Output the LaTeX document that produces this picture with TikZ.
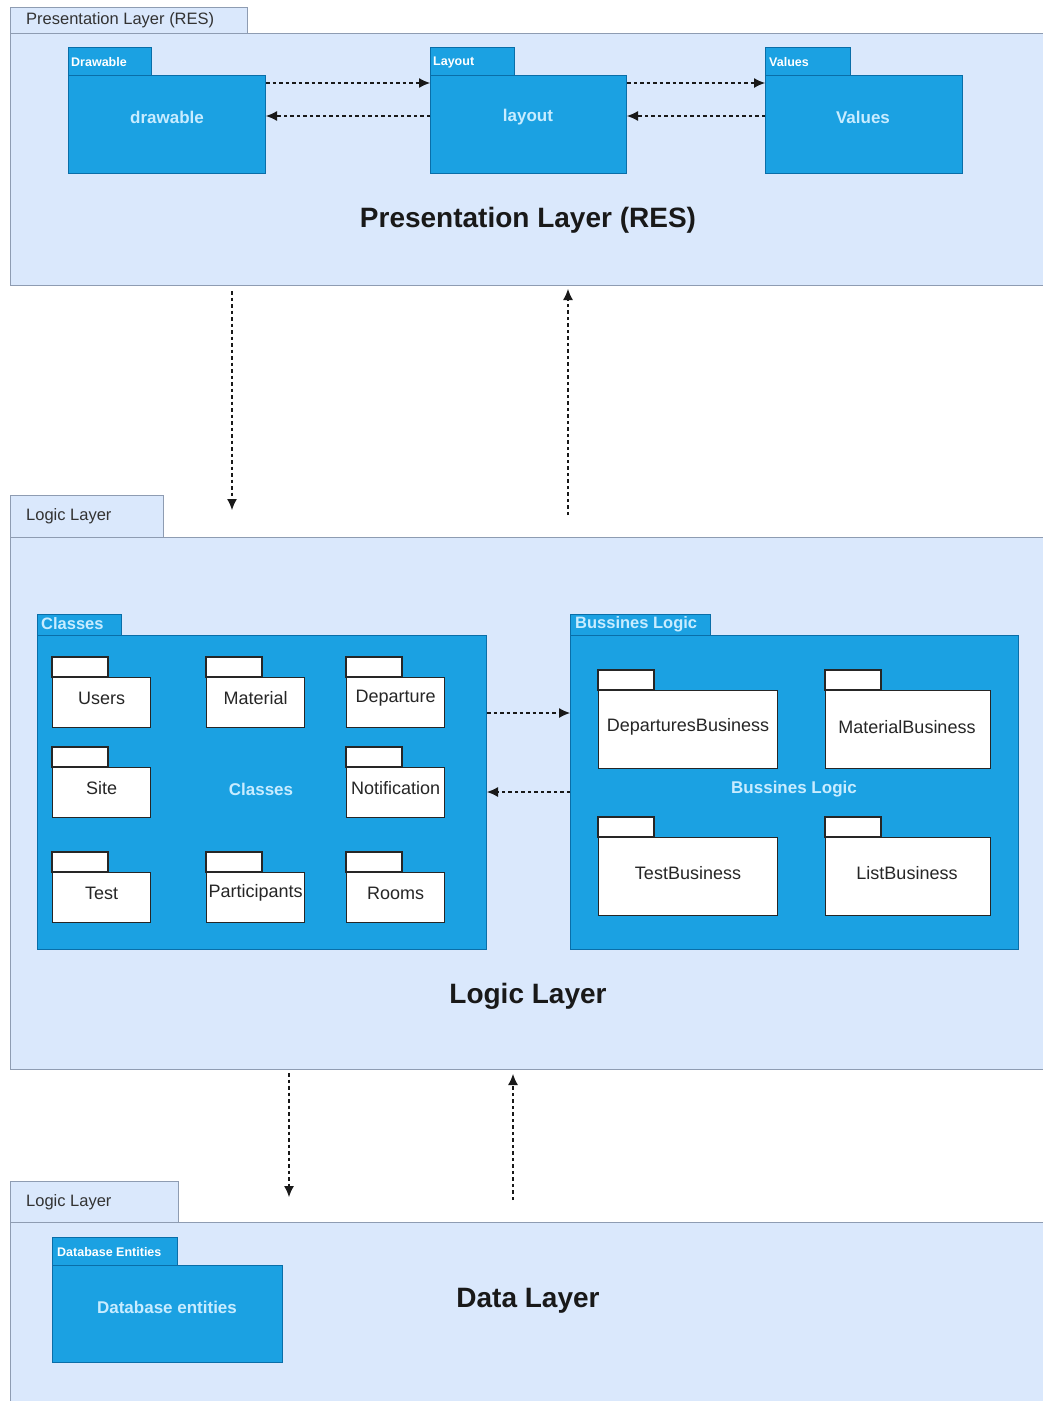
\documentclass[tikz,border=0pt]{standalone}
\usepackage{fontspec}
\setmainfont{Liberation Sans}
\usetikzlibrary{arrows.meta,calc}

\definecolor{layerfill}{HTML}{DAE8FC}
\definecolor{layerline}{HTML}{8E9CB2}
\definecolor{pkgfill}{HTML}{1BA1E2}
\definecolor{pkgline}{HTML}{0A6EA8}
\definecolor{pkgtext}{HTML}{C8ECFF}

\tikzset{
  layerbox/.style={fill=layerfill, draw=layerline, line width=1pt, inner sep=0pt, anchor=north west},
  layertab/.style={fill=layerfill, draw=layerline, line width=1pt},
  layertablabel/.style={anchor=west, font=\fontsize{16.5}{18}\selectfont, text=black!80, inner sep=0pt},
  layertitle/.style={font=\fontsize{28}{32}\selectfont\bfseries, text=black!90},
  pkgbox/.style={fill=pkgfill, draw=pkgline, line width=1pt, inner sep=0pt, anchor=north west},
  pkgtab/.style={fill=pkgfill, draw=pkgline, line width=1pt},
  pkgtablabel/.style={anchor=west, font=\bfseries\fontsize{12.5}{14}\selectfont, text=white, inner sep=0pt},
  pkgtablabelbig/.style={anchor=west, font=\bfseries\fontsize{16.5}{18}\selectfont, text=pkgtext, inner sep=0pt},
  pkglabel/.style={font=\bfseries\fontsize{17}{19}\selectfont, text=pkgtext},
  subbox/.style={fill=white, draw=black!85, line width=1.4pt, inner sep=0pt, anchor=north west},
  subtab/.style={fill=white, draw=black!85, line width=1.4pt},
  sublabel/.style={font=\fontsize{18}{20}\selectfont, text=black!85, inner sep=0pt},
  dep/.style={draw=black!90, line width=1.1pt, dash pattern=on 3.5pt off 3pt,
              -{Latex[length=11pt,width=10pt]}},
}

% small white package: body node name, left x, top of tab y, body width, body height, text
\newcommand{\subpkg}[6]{%
  \draw[subtab] (#2,#3) rectangle (#2+56,#3+20);
  \node[subbox, minimum width=#4pt, minimum height=#5pt] (#1) at (#2,#3+20) {};
  \node[sublabel] at ($(#1.north)+(0,21)$) {#6};
}

\begin{document}
\begin{tikzpicture}[x=1pt,y=-1pt]
\useasboundingbox (0,0) rectangle (1043,1401);
\fill[white] (0,0) rectangle (1043,1401);

% ---------------- Presentation layer ----------------
\draw[layertab] (10,7) rectangle (247,33);
\node[layertablabel] at (26,20) {Presentation Layer (RES)};
\node[layerbox, minimum width=1036pt, minimum height=252pt] (pres) at (10,33) {};
\node[layertitle] at (528,220) {Presentation Layer (RES)};

\draw[pkgtab] (68,47) rectangle (151,75);
\node[pkgtablabel] at (71,62) {Drawable};
\node[pkgbox, minimum width=197pt, minimum height=98pt] (drawable) at (68,75) {};
\node[pkglabel] at (167,117) {drawable};

\draw[pkgtab] (430,47) rectangle (514,75);
\node[pkgtablabel] at (433,62) {Layout};
\node[pkgbox, minimum width=196pt, minimum height=98pt] (layout) at (430,75) {};
\node[pkglabel] at (528,117) {layout};

\draw[pkgtab] (765,47) rectangle (850,75);
\node[pkgtablabel] at (769,62) {Values};
\node[pkgbox, minimum width=197pt, minimum height=98pt] (values) at (765,75) {};
\node[pkglabel] at (863,117) {Values};

\draw[dep] ($(drawable.north east)+(0,8)$) -- ($(layout.north west)+(0,8)$);
\draw[dep] ($(layout.north west)+(0,41)$) -- ($(drawable.north east)+(0,41)$);
\draw[dep] ($(layout.north east)+(0,8)$) -- ($(values.north west)+(0,8)$);
\draw[dep] ($(values.north west)+(0,41)$) -- ($(layout.north east)+(0,41)$);

% ---------------- Logic layer ----------------
\draw[layertab] (10,495) rectangle (163,537);
\node[layertablabel] at (26,516) {Logic Layer};
\node[layerbox, minimum width=1036pt, minimum height=532pt] (logic) at (10,537) {};
\node[layertitle] at (528,996) {Logic Layer};

\draw[dep] ($(pres.south west)+(222,5)$) -- ($(logic.north west)+(222,-27)$);
\draw[dep] ($(logic.north west)+(558,-22)$) -- ($(pres.south west)+(558,3)$);

% Classes package
\draw[pkgtab] (37,614) rectangle (121,635);
\node[pkgtablabelbig] at (41,624) {Classes};
\node[pkgbox, minimum width=449pt, minimum height=314pt] (classes) at (37,635) {};
\node[pkglabel] at (261,789) {Classes};

\subpkg{users}{52}{657}{98}{50}{Users}
\subpkg{material}{206}{657}{98}{50}{Material}
\subpkg{departure}{346}{657}{98}{50}{Departure}
\subpkg{site}{52}{747}{98}{50}{Site}
\subpkg{notification}{346}{747}{98}{50}{Notification}
\subpkg{test}{52}{852}{98}{50}{Test}
\subpkg{participants}{206}{852}{98}{50}{Participants}
\subpkg{rooms}{346}{852}{98}{50}{Rooms}

% Business logic package
\draw[pkgtab] (570,614) rectangle (710,635);
\node[pkgtablabelbig] at (575,624) {Bussines Logic};
\node[pkgbox, minimum width=448pt, minimum height=314pt] (business) at (570,635) {};
\node[pkglabel] at (794,789) {Bussines Logic};

\draw[subtab] (598,670) rectangle (654,690);
\node[subbox, minimum width=179pt, minimum height=78pt] (depbiz) at (598,690) {};
\node[sublabel] at (688,727) {DeparturesBusiness};
\draw[subtab] (825,670) rectangle (881,690);
\node[subbox, minimum width=165pt, minimum height=78pt] (matbiz) at (825,690) {};
\node[sublabel] at (907,727) {MaterialBusiness};
\draw[subtab] (598,817) rectangle (654,837);
\node[subbox, minimum width=179pt, minimum height=78pt] (testbiz) at (598,837) {};
\node[sublabel] at (688,873) {TestBusiness};
\draw[subtab] (825,817) rectangle (881,837);
\node[subbox, minimum width=165pt, minimum height=78pt] (listbiz) at (825,837) {};
\node[sublabel] at (907,873) {ListBusiness};

\draw[dep] ($(classes.north east)+(0,78)$) -- ($(business.north west)+(0,78)$);
\draw[dep] ($(business.north west)+(0,157)$) -- ($(classes.north east)+(0,157)$);

% ---------------- Data layer ----------------
\draw[layertab] (10,1181) rectangle (178,1222);
\node[layertablabel] at (26,1202) {Logic Layer};
\node[layerbox, minimum width=1036pt, minimum height=185pt] (data) at (10,1222) {};
\node[layertitle] at (528,1301) {Data Layer};

\draw[dep] ($(logic.south west)+(279,3)$) -- ($(data.north west)+(279,-25)$);
\draw[dep] ($(data.north west)+(503,-22)$) -- ($(logic.south west)+(503,4)$);

\draw[pkgtab] (52,1237) rectangle (177,1265);
\node[pkgtablabel] at (57,1252) {Database Entities};
\node[pkgbox, minimum width=230pt, minimum height=97pt] (dbent) at (52,1265) {};
\node[pkglabel] at (167,1307) {Database entities};
\end{tikzpicture}
\end{document}
